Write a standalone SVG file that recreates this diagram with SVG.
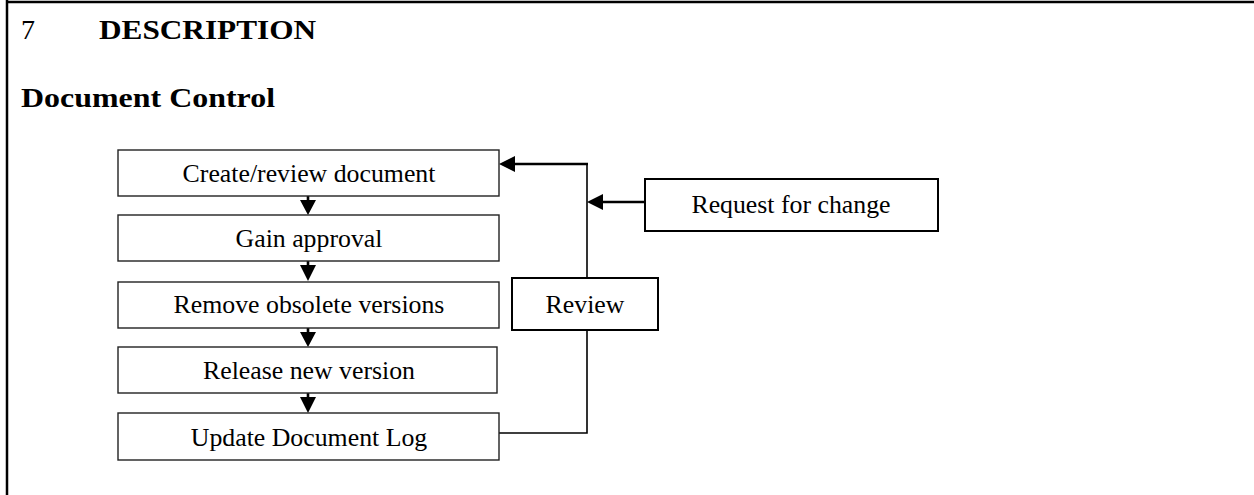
<svg xmlns="http://www.w3.org/2000/svg" width="1254" height="495" viewBox="0 0 1254 495">
<style>
.box{fill:#fff;stroke:#222;stroke-width:1.4}
.box2{fill:#fff;stroke:#000;stroke-width:2}
.t{font-family:"Liberation Serif","Times New Roman",serif;font-size:25.8px;fill:#000;text-anchor:middle}
.h{font-family:"Liberation Serif","Times New Roman",serif;font-size:28px;fill:#000}
.ln{stroke:#000;stroke-width:1.6;fill:none}
.arr{stroke:#000;stroke-width:2.6;fill:none}
.head{fill:#000}
</style>
<rect width="1254" height="495" fill="#fff"/>
<g id="frame">
<line x1="7" y1="2" x2="1254" y2="2" stroke="#000" stroke-width="2.5"/>
<line x1="7" y1="0" x2="7" y2="495" stroke="#000" stroke-width="2.5"/>
</g>
<g id="heading">
<text class="h" x="21" y="39">7</text>
<text class="h" x="99" y="39" font-weight="bold" textLength="217" lengthAdjust="spacingAndGlyphs">DESCRIPTION</text>
<text class="h" x="21" y="107" font-weight="bold" textLength="254" lengthAdjust="spacingAndGlyphs">Document Control</text>
</g>
<g id="connectors">
<line class="arr" x1="308" y1="196" x2="308" y2="201"/>
<polygon class="head" points="300,200 316,200 308,215"/>
<line class="arr" x1="308" y1="261" x2="308" y2="266"/>
<polygon class="head" points="300,265 316,265 308,281"/>
<line class="arr" x1="308" y1="328" x2="308" y2="333"/>
<polygon class="head" points="300,332 316,332 308,347"/>
<line class="arr" x1="308" y1="393" x2="308" y2="398"/>
<polygon class="head" points="300,397 316,397 308,413"/>
<polyline class="ln" points="587,278 587,164"/>
<line class="arr" x1="588" y1="164" x2="512" y2="164"/>
<polygon class="head" points="499,164 515,156 515,172"/>
<line class="arr" x1="645" y1="202" x2="600" y2="202"/>
<polygon class="head" points="587,202 603,194 603,210"/>
<polyline class="ln" points="587,330 587,433 498,433"/>
</g>
<g id="n1"><rect class="box" x="118" y="150" width="381" height="46"/><text class="t" x="309" y="182">Create/review document</text></g>
<g id="n2"><rect class="box" x="118" y="215" width="381" height="46"/><text class="t" x="309" y="247">Gain approval</text></g>
<g id="n3"><rect class="box" x="118" y="282" width="381" height="46"/><text class="t" x="309" y="313">Remove obsolete versions</text></g>
<g id="n4"><rect class="box" x="118" y="347" width="379" height="46"/><text class="t" x="309" y="379">Release new version</text></g>
<g id="n5"><rect class="box" x="118" y="413" width="381" height="47"/><text class="t" x="309" y="446">Update Document Log</text></g>
<g id="review"><rect class="box2" x="512" y="278" width="146" height="52"/><text class="t" x="585" y="313">Review</text></g>
<g id="request"><rect class="box2" x="645" y="179" width="293" height="52"/><text class="t" x="791" y="213">Request for change</text></g>
</svg>
